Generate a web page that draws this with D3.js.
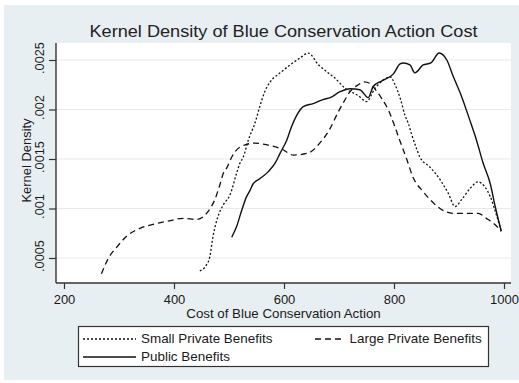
<!DOCTYPE html>
<html>
<head>
<meta charset="utf-8">
<script src="https://cdn.jsdelivr.net/npm/d3@7/dist/d3.min.js"></script>
<style>
  html, body { margin: 0; padding: 0; background: #ffffff; }
  svg { display: block; font-family: "Liberation Sans", Arial, sans-serif; }
</style>
</head>
<body>
<svg id="chart" width="519" height="383"></svg>
<script>
// Kernel density estimates, [cost, density]
const smallPrivate = [
  [447, 0.00037], [459, 0.00043], [465, 0.00051], [471, 0.00072], [480, 0.00092],
  [490, 0.00104], [502, 0.00114], [514, 0.00136], [520, 0.00146], [526, 0.00152],
  [535, 0.00169], [547, 0.00186], [556, 0.00203], [565, 0.00218], [575, 0.00228],
  [593, 0.00237], [611, 0.00245], [629, 0.00252], [644, 0.00257], [663, 0.00245],
  [678, 0.00238], [692, 0.00232], [712, 0.00221], [735, 0.00214], [750, 0.00208],
  [765, 0.00221], [784, 0.00231], [793, 0.00233], [802, 0.00225], [812, 0.00210],
  [820, 0.00194], [826, 0.00186], [832, 0.00175], [842, 0.00159], [847, 0.00152],
  [865, 0.00142], [884, 0.00129], [899, 0.00115], [911, 0.00102], [923, 0.00109],
  [938, 0.00120], [953, 0.00127], [965, 0.00122], [975, 0.00112], [987, 0.00092],
  [995, 0.00077]
];

const largePrivate = [
  [268, 0.00034], [281, 0.00050], [296, 0.00061], [314, 0.00072], [338, 0.00080],
  [362, 0.00084], [387, 0.00087], [417, 0.00090], [441, 0.00089], [462, 0.00097],
  [475, 0.00110], [484, 0.00125], [490, 0.00136], [496, 0.00141], [505, 0.00152],
  [520, 0.00162], [547, 0.00166], [571, 0.00164], [596, 0.00160], [617, 0.00154],
  [644, 0.00156], [665, 0.00166], [682, 0.00179], [699, 0.00198], [709, 0.00208],
  [720, 0.00218], [735, 0.00225], [746, 0.00228], [757, 0.00226], [765, 0.00221],
  [779, 0.00210], [791, 0.00198], [800, 0.00185], [811, 0.00168], [823, 0.00150],
  [835, 0.00131], [853, 0.00117], [871, 0.00106], [893, 0.00097], [911, 0.00095],
  [930, 0.00095], [953, 0.00095], [968, 0.00090], [983, 0.00084], [995, 0.00077]
];

const publicBenefits = [
  [505, 0.00071], [514, 0.00082], [523, 0.00098], [532, 0.00112], [538, 0.00118],
  [544, 0.00125], [556, 0.00130], [571, 0.00137], [584, 0.00146], [593, 0.00156],
  [605, 0.00169], [614, 0.00183], [623, 0.00194], [635, 0.00203], [653, 0.00206],
  [671, 0.00210], [684, 0.00212], [702, 0.00218], [720, 0.00221], [738, 0.00220],
  [753, 0.00212], [762, 0.00223], [778, 0.00229], [799, 0.00236], [811, 0.00246],
  [817, 0.00247], [829, 0.00245], [838, 0.00237], [853, 0.00245], [867, 0.00247],
  [882, 0.00257], [896, 0.00250], [908, 0.00233], [923, 0.00213], [938, 0.00189],
  [950, 0.00169], [962, 0.00146], [975, 0.00125], [984, 0.00102], [995, 0.00077]
];

const xTicks = [200, 400, 600, 800, 1000];
const xTickLabels = ["200", "400", "600", "800", "1000"];
const yTicks = [0.0005, 0.001, 0.0015, 0.002, 0.0025];
const yTickLabels = [".0005", ".001", ".0015", ".002", ".0025"];

const seriesNames = ["Small Private Benefits", "Large Private Benefits", "Public Benefits"];

const titleText = "Kernel Density of Blue Conservation Action Cost";
const xTitleText = "Cost of Blue Conservation Action";
const yTitleText = "Kernel Density";

// ---------------------------------------------------------------
const svg = d3.select("#chart");
const plot = { left: 56, right: 511, top: 43, bottom: 283 };

const x = d3.scaleLinear().domain([200, 1000]).range([64, 504]);
const y = d3.scaleLinear().domain([0.0005, 0.0025]).range([258, 60]);

const ink = "#1a1a1a";

// Graph region and plot region
svg.append("rect").attr("x", 4).attr("y", 5).attr("width", 515).attr("height", 375)
  .attr("fill", "#e8eff2");
svg.append("rect").attr("x", plot.left).attr("y", plot.top)
  .attr("width", plot.right - plot.left).attr("height", plot.bottom - plot.top)
  .attr("fill", "#ffffff");

// Horizontal grid lines
svg.append("g").selectAll("line").data(yTicks).join("line")
  .attr("x1", plot.left).attr("x2", plot.right)
  .attr("y1", d => y(d)).attr("y2", d => y(d))
  .attr("stroke", "#e3ebee").attr("stroke-width", 1);

// Text helper: horizontally stretched glyphs
function label(parent, px, py, str, size, opts = {}) {
  const g = parent.append("g")
    .attr("transform", `translate(${px},${py}) rotate(${opts.rot || 0}) scale(${opts.sx || 1},1)`);
  g.append("text")
    .attr("text-anchor", opts.anchor || "start")
    .attr("fill", opts.fill || ink)
    .style("font-size", size + "px")
    .text(str);
  return g;
}

// X axis
const xAxis = d3.axisBottom(x)
  .tickValues(xTicks)
  .tickFormat((d, i) => xTickLabels[i])
  .tickSize(6)
  .tickSizeOuter(0);
const gx = svg.append("g").attr("transform", `translate(0,${plot.bottom})`).call(xAxis);
gx.select(".domain").remove();
gx.selectAll(".tick line").attr("stroke", "#333").attr("stroke-width", 1.2);
gx.selectAll(".tick text")
  .attr("y", null).attr("dy", null)
  .attr("transform", "translate(0,20.5) scale(1.04,1)")
  .attr("fill", ink)
  .style("font-size", "12.5px")
  .style("font-family", "Liberation Sans, Arial, sans-serif");
svg.append("line")
  .attr("x1", plot.left).attr("x2", plot.right)
  .attr("y1", plot.bottom).attr("y2", plot.bottom)
  .attr("stroke", "#333").attr("stroke-width", 1.4);

// Y axis
const yAxis = d3.axisLeft(y)
  .tickValues(yTicks)
  .tickFormat((d, i) => yTickLabels[i])
  .tickSize(7)
  .tickSizeOuter(0);
const gy = svg.append("g").attr("transform", `translate(${plot.left},0)`).call(yAxis);
gy.select(".domain").remove();
gy.selectAll(".tick line").attr("stroke", "#333").attr("stroke-width", 1.2);
gy.selectAll(".tick text")
  .attr("x", null).attr("dy", null)
  .attr("text-anchor", "middle")
  .attr("transform", "translate(-12,-2.5) rotate(-90) scale(1.06,1)")
  .attr("fill", ink)
  .style("font-size", "12px")
  .style("font-family", "Liberation Sans, Arial, sans-serif");
svg.append("line")
  .attr("x1", plot.left).attr("x2", plot.left)
  .attr("y1", plot.top).attr("y2", plot.bottom)
  .attr("stroke", "#333").attr("stroke-width", 1.4);

// Titles
label(svg, 283.5, 36.5, titleText, 16.5, { anchor: "middle", sx: 1.1, fill: "#222" });
label(svg, 283.5, 317.5, xTitleText, 12, { anchor: "middle", sx: 1.11 });
label(svg, 30.5, 160.5, yTitleText, 12, { anchor: "middle", rot: -90, sx: 1.08 });

// Density curves
const line = d3.line()
  .x(d => x(d[0]))
  .y(d => y(d[1]))
  .curve(d3.curveMonotoneX);

const styles = [
  { data: smallPrivate, dash: "2,2", width: 1.3 },
  { data: largePrivate, dash: "6,4", width: 1.3 },
  { data: publicBenefits, dash: null, width: 1.4 }
];

const curves = svg.append("g").attr("fill", "none").attr("stroke", "#111");
styles.forEach(s => {
  curves.append("path")
    .datum(s.data)
    .attr("d", line)
    .attr("stroke-width", s.width)
    .attr("stroke-dasharray", s.dash)
    .attr("stroke-linejoin", "round");
});

// Legend
const legend = svg.append("g");
legend.append("rect")
  .attr("x", 78.5).attr("y", 326.5).attr("width", 410).attr("height", 40)
  .attr("fill", "#ffffff").attr("stroke", "#333").attr("stroke-width", 1.2);

const legendItems = [
  { name: seriesNames[0], style: styles[0], x1: 83, x2: 136, tx: 141, row: 0 },
  { name: seriesNames[1], style: styles[1], x1: 315, x2: 344, tx: 349.5, row: 0 },
  { name: seriesNames[2], style: styles[2], x1: 83, x2: 136, tx: 141, row: 1 }
];
legendItems.forEach(it => {
  const ly = 339 + it.row * 18;
  legend.append("line")
    .attr("x1", it.x1).attr("x2", it.x2).attr("y1", ly).attr("y2", ly)
    .attr("stroke", "#111").attr("stroke-width", it.style.width)
    .attr("stroke-dasharray", it.style.dash);
  label(legend, it.tx, ly + 4, it.name, 12, { sx: 1.12 });
});
</script>
</body>
</html>
